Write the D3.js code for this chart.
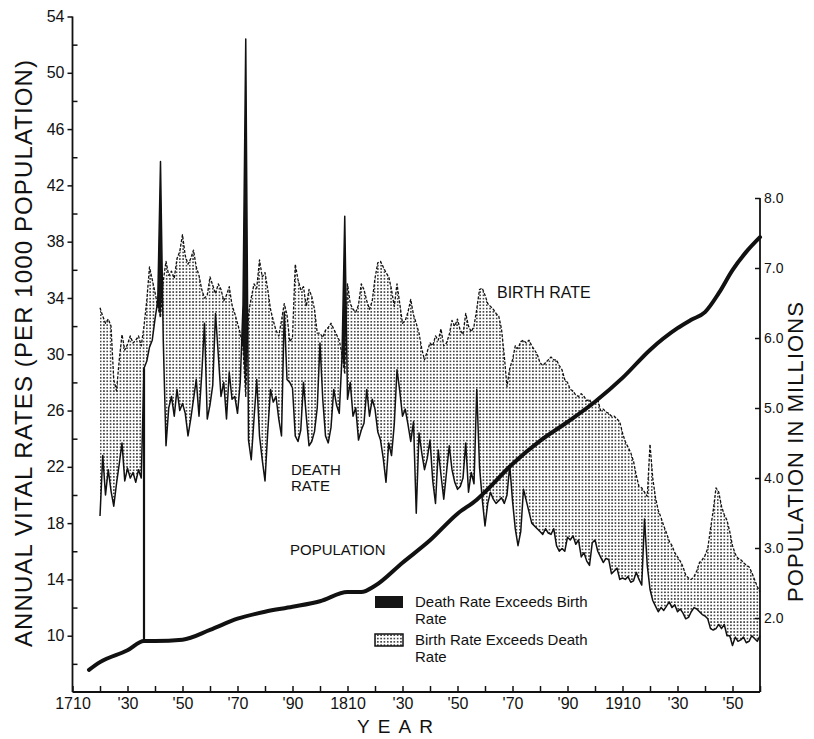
<!DOCTYPE html>
<html>
<head>
<meta charset="utf-8">
<script src="https://cdn.jsdelivr.net/npm/d3@7"></script>
<style>
  body { margin: 0; background: #fff; }
  svg { display: block; font-family: "Liberation Sans", Arial, sans-serif; }
</style>
</head>
<body>
<svg id="chart" width="814" height="739"></svg>
<script>
// Annual vital rates per 1000 population, one value per year from firstYear
const firstYear = 1720;

const birthRate = [
  33.3, 32.7, 32.2, 32.5, 32.0, 28.2, 27.4, 29.6, 31.4, 30.3, // 1720s
  30.7, 31.3, 30.8, 31.0, 31.3, 30.6, 32.0, 33.8, 36.2, 35.3, // 1730s
  34.4, 33.4, 32.6, 35.2, 36.6, 35.6, 35.9, 35.4, 36.8, 37.3, // 1740s
  38.5, 37.0, 36.4, 36.8, 37.4, 36.2, 35.6, 34.6, 34.0, 34.2, // 1750s
  35.5, 34.9, 34.3, 35.0, 34.6, 33.8, 34.2, 34.8, 33.5, 32.9, // 1760s
  32.2, 31.5, 30.4, 27.0, 32.9, 34.0, 35.0, 34.7, 36.7, 35.5, // 1770s
  35.8, 34.6, 33.2, 32.4, 31.7, 31.3, 32.4, 33.6, 32.8, 30.9, // 1780s
  31.2, 36.4, 35.3, 34.6, 34.8, 33.4, 34.6, 34.1, 33.2, 31.5, // 1790s
  31.5, 31.2, 31.7, 31.9, 32.2, 31.8, 31.4, 31.0, 30.0, 28.6, // 1800s
  35.0, 33.6, 33.2, 33.0, 33.5, 35.0, 34.6, 33.8, 33.2, 33.8, // 1810s
  35.4, 36.5, 36.6, 36.2, 35.8, 35.5, 34.6, 33.4, 35.0, 33.6, // 1820s
  32.2, 32.4, 33.0, 33.9, 32.8, 32.2, 31.5, 30.4, 29.6, 30.2, // 1830s
  30.8, 30.6, 31.3, 31.0, 31.8, 30.6, 30.8, 31.4, 32.4, 32.0, // 1840s
  32.5, 31.7, 31.4, 32.9, 32.0, 31.6, 32.0, 33.2, 34.6, 34.7, // 1850s
  34.2, 33.6, 33.4, 33.2, 32.9, 32.7, 31.8, 29.9, 27.7, 29.0, // 1860s
  29.6, 30.6, 30.4, 30.9, 31.0, 30.8, 31.0, 30.6, 30.3, 30.0, // 1870s
  29.4, 29.2, 29.4, 29.6, 29.8, 29.6, 29.6, 29.2, 28.9, 28.2, // 1880s
  28.0, 27.5, 27.4, 27.1, 27.0, 27.2, 27.0, 26.7, 26.8, 26.4, // 1890s
  26.6, 26.8, 26.0, 26.1, 25.9, 25.8, 25.6, 25.6, 25.4, 25.2, // 1900s
  24.4, 23.8, 23.4, 23.0, 22.4, 21.4, 20.6, 20.5, 20.2, 19.9, // 1910s
  23.6, 21.2, 19.8, 18.9, 18.4, 17.8, 17.3, 16.7, 16.4, 15.9, // 1920s
  15.6, 15.3, 14.9, 14.3, 14.1, 14.0, 14.2, 14.6, 15.2, 15.4, // 1930s
  15.7, 16.2, 17.6, 18.9, 20.5, 20.2, 19.2, 18.6, 18.2, 17.4, // 1940s
  16.4, 15.8, 15.5, 15.4, 15.2, 15.0, 14.9, 14.5, 14.0, 13.5, // 1950s
  13.1                                                        // 1960
];

const deathRate = [
  18.5, 22.8, 20.0, 21.8, 20.3, 19.2, 20.8, 22.2, 23.7, 21.0, // 1720s
  21.9, 21.2, 21.6, 20.9, 21.8, 21.2, 29.0, 29.5, 30.5, 31.0, // 1730s
  32.5, 33.8, 43.7, 31.0, 23.5, 26.2, 27.0, 25.6, 27.5, 26.0, // 1740s
  26.5, 25.8, 24.2, 25.4, 26.8, 28.2, 25.6, 28.6, 32.2, 25.4, // 1750s
  26.4, 27.8, 32.9, 30.0, 27.0, 28.0, 25.4, 28.7, 26.8, 27.0, // 1760s
  25.8, 28.0, 33.5, 52.4, 23.9, 22.5, 25.4, 28.2, 24.2, 22.5, // 1770s
  21.0, 24.5, 27.5, 26.6, 27.0, 25.4, 24.2, 33.0, 28.2, 28.0, // 1780s
  27.6, 24.2, 23.8, 24.6, 28.0, 25.6, 23.5, 23.8, 24.5, 26.2, // 1790s
  30.8, 26.8, 24.2, 23.7, 24.8, 27.5, 26.4, 25.8, 29.8, 39.8, // 1800s
  26.8, 28.0, 25.6, 26.2, 23.9, 24.6, 25.1, 27.5, 25.6, 26.8, // 1810s
  26.1, 24.5, 23.9, 22.6, 20.9, 23.7, 22.8, 25.0, 28.9, 27.4, // 1820s
  25.6, 26.1, 25.0, 23.8, 25.2, 18.7, 24.4, 23.0, 21.8, 22.6, // 1830s
  23.9, 21.0, 19.4, 23.2, 21.4, 19.7, 21.6, 23.5, 21.8, 20.9, // 1840s
  20.4, 20.6, 21.2, 23.7, 20.2, 21.6, 20.8, 27.5, 22.0, 19.7, // 1850s
  17.8, 19.4, 20.2, 19.7, 19.4, 19.6, 19.8, 19.4, 20.0, 22.1, // 1860s
  19.6, 17.6, 16.4, 17.4, 20.4, 19.6, 18.8, 18.0, 17.8, 17.6, // 1870s
  17.4, 17.2, 17.6, 17.3, 17.2, 17.6, 16.4, 16.0, 16.2, 16.0, // 1880s
  17.0, 16.8, 17.1, 16.5, 16.8, 15.6, 15.9, 15.3, 15.0, 16.6, // 1890s
  16.8, 16.0, 15.6, 15.2, 15.5, 15.4, 14.4, 14.6, 14.8, 14.0, // 1900s
  14.1, 14.0, 14.2, 13.8, 13.9, 14.5, 14.0, 13.6, 18.3, 15.0, // 1910s
  13.3, 12.5, 12.1, 11.7, 12.0, 11.8, 12.1, 12.4, 12.0, 12.2, // 1920s
  11.7, 11.9, 11.6, 11.2, 11.3, 11.7, 12.0, 11.9, 11.7, 11.5, // 1930s
  11.4, 11.2, 10.5, 10.4, 10.5, 10.8, 10.5, 10.8, 10.0, 10.0, // 1940s
  9.3, 9.9, 9.6, 9.7, 9.9, 9.5, 9.6, 10.0, 9.8, 9.6,          // 1950s
  10.0                                                        // 1960
];

// Population in millions
const popYears    = [1716, 1720, 1730, 1736, 1740, 1750, 1760, 1770, 1780, 1790, 1800, 1810, 1815, 1820, 1830, 1840,
                     1850, 1857, 1860, 1870, 1880, 1890, 1900, 1910, 1920, 1930, 1935, 1940, 1945, 1950, 1955, 1960];
const popMillions = [1.26, 1.37, 1.54, 1.67, 1.67, 1.69, 1.83, 1.99, 2.09, 2.16, 2.24, 2.37, 2.37, 2.46, 2.79, 3.11,
                     3.49, 3.69, 3.80, 4.20, 4.53, 4.80, 5.09, 5.43, 5.83, 6.14, 6.26, 6.37, 6.64, 6.97, 7.23, 7.44];

// Year where the early estimated series hands over to the recorded one
const separatorYear = 1736;

// Axis ticks and labels
const rateTicks      = [10, 14, 18, 22, 26, 30, 34, 38, 42, 46, 50, 54];
const rateMinorTicks = [8, 12, 16, 20, 24, 28, 32, 36, 40, 44, 48, 52];
const popTicks       = [2, 3, 4, 5, 6, 7, 8];
const popTickLabels  = ["2.0", "3.0", "4.0", "5.0", "6.0", "7.0", "8.0"];
const yearTicks      = [1710, 1720, 1730, 1740, 1750, 1760, 1770, 1780, 1790, 1800, 1810, 1820, 1830,
                        1840, 1850, 1860, 1870, 1880, 1890, 1900, 1910, 1920, 1930, 1940, 1950, 1960];
const yearLabelYears = [1710, 1730, 1750, 1770, 1790, 1810, 1830, 1850, 1870, 1890, 1910, 1930, 1950];
const yearLabelTexts = ["1710", "'30", "'50", "'70", "'90", "1810", "'30", "'50", "'70", "'90", "1910", "'30", "'50"];

const ink = "#111";
const svg = d3.select("#chart");

const x  = d3.scaleLinear().domain([1710, 1960]).range([72.5, 760]);
const yR = d3.scaleLinear().domain([6, 54]).range([692, 16.5]);
const yP = d3.scaleLinear().domain([2, 8]).range([618, 198]);

const rows = birthRate.map((b, i) => ({ year: firstYear + i, birth: b, death: deathRate[i] }));
const pop  = popYears.map((yr, i) => ({ year: yr, value: popMillions[i] }));

// ---- patterns and clip regions
const defs = svg.append("defs");
const dots = defs.append("pattern").attr("id", "dots")
  .attr("patternUnits", "userSpaceOnUse").attr("width", 3.3).attr("height", 3.3);
dots.append("rect").attr("width", 3.3).attr("height", 3.3).attr("fill", "#fff");
dots.append("circle").attr("cx", 1.65).attr("cy", 1.65).attr("r", 0.92).attr("fill", "#1c1c1c");

const yBottom = yR(6);
defs.append("clipPath").attr("id", "belowBirth").append("path")
  .attr("d", d3.area().x(d => x(d.year)).y0(yBottom).y1(d => yR(d.birth))(rows));
defs.append("clipPath").attr("id", "aboveBirth").append("path")
  .attr("d", d3.area().x(d => x(d.year)).y0(0).y1(d => yR(d.birth))(rows));

// Birth rate exceeds death rate: stippled band
svg.append("path")
  .attr("clip-path", "url(#belowBirth)")
  .attr("d", d3.area().x(d => x(d.year)).y0(0).y1(d => yR(d.death))(rows))
  .attr("fill", "url(#dots)");

// Death rate exceeds birth rate: solid dark band
svg.append("path")
  .attr("clip-path", "url(#aboveBirth)")
  .attr("d", d3.area().x(d => x(d.year)).y0(yBottom).y1(d => yR(d.death))(rows))
  .attr("fill", "#151515");

// Death rate: solid line
svg.append("path")
  .attr("d", d3.line().x(d => x(d.year)).y(d => yR(d.death))(rows))
  .attr("fill", "none").attr("stroke", ink).attr("stroke-width", 1.5)
  .attr("stroke-linejoin", "round");

// Birth rate: dashed line
svg.append("path")
  .attr("d", d3.line().x(d => x(d.year)).y(d => yR(d.birth))(rows))
  .attr("fill", "none").attr("stroke", ink).attr("stroke-width", 1.3)
  .attr("stroke-dasharray", "3,1.6").attr("stroke-linejoin", "round");

// Separator between the estimated and recorded series
const sepDeath = deathRate[separatorYear - firstYear];
const sepPop = popMillions[popYears.indexOf(separatorYear)];
svg.append("line")
  .attr("x1", x(separatorYear)).attr("x2", x(separatorYear))
  .attr("y1", yR(sepDeath)).attr("y2", yP(sepPop))
  .attr("stroke", ink).attr("stroke-width", 2.2);

// Population: heavy smooth line on the right-hand scale
svg.append("path")
  .attr("d", d3.line().x(d => x(d.year)).y(d => yP(d.value)).curve(d3.curveMonotoneX)(pop))
  .attr("fill", "none").attr("stroke", ink).attr("stroke-width", 4)
  .attr("stroke-linecap", "round");

// ---- axes
function styleAxis(g, size) {
  g.select(".domain").remove();
  g.selectAll("line").attr("stroke", ink).attr("stroke-width", 1.5);
  g.selectAll("text").attr("fill", ink).attr("font-size", size);
}

const leftX = x(1710), rightX = x(1960);

svg.append("g").attr("transform", `translate(${leftX},0)`)
  .call(d3.axisLeft(yR).tickValues(rateTicks).tickSize(5).tickPadding(3).tickFormat(d3.format("d")))
  .call(g => styleAxis(g, 16));
svg.append("g").attr("transform", `translate(${leftX},0)`)
  .call(d3.axisRight(yR).tickValues(rateMinorTicks).tickSize(5).tickFormat(""))
  .call(g => styleAxis(g, 16));

svg.append("g").attr("transform", `translate(${rightX},0)`)
  .call(d3.axisRight(yP).tickValues(popTicks).tickSizeInner(-5).tickSizeOuter(0).tickPadding(4)
    .tickFormat((d, i) => popTickLabels[i]))
  .call(g => styleAxis(g, 14));

svg.append("g").attr("transform", `translate(0,${yBottom})`)
  .call(d3.axisBottom(x).tickValues(yearTicks).tickSizeInner(-6).tickSizeOuter(0).tickPadding(6)
    .tickFormat(d => { const k = yearLabelYears.indexOf(d); return k >= 0 ? yearLabelTexts[k] : ""; }))
  .call(g => styleAxis(g, 16));

// axis lines
svg.append("line").attr("x1", leftX).attr("x2", leftX).attr("y1", yR(54)).attr("y2", yBottom)
  .attr("stroke", ink).attr("stroke-width", 1.8);
svg.append("line").attr("x1", rightX).attr("x2", rightX).attr("y1", yP(8)).attr("y2", yBottom)
  .attr("stroke", ink).attr("stroke-width", 1.8);
svg.append("line").attr("x1", leftX).attr("x2", rightX).attr("y1", yBottom).attr("y2", yBottom)
  .attr("stroke", ink).attr("stroke-width", 1.8);

// ---- axis titles
svg.append("text")
  .attr("transform", "translate(23,353.5) rotate(-90)")
  .attr("text-anchor", "middle").attr("dominant-baseline", "central")
  .attr("font-size", 24).attr("fill", ink)
  .attr("textLength", 587).attr("lengthAdjust", "spacing")
  .text("ANNUAL VITAL RATES (PER 1000 POPULATION)");

svg.append("text")
  .attr("transform", "translate(795,452) rotate(-90)")
  .attr("text-anchor", "middle").attr("dominant-baseline", "central")
  .attr("font-size", 22).attr("fill", ink)
  .attr("textLength", 300).attr("lengthAdjust", "spacing")
  .text("POPULATION IN MILLIONS");

svg.append("text")
  .attr("x", 357).attr("y", 733)
  .attr("font-size", 19).attr("fill", ink)
  .attr("textLength", 76).attr("lengthAdjust", "spacing")
  .text("YEAR");

// ---- series labels
svg.append("text").attr("x", 497).attr("y", 298).attr("font-size", 16).attr("fill", ink).text("BIRTH RATE");
svg.append("text").attr("x", 291).attr("y", 475).attr("font-size", 15).attr("fill", ink).text("DEATH");
svg.append("text").attr("x", 291).attr("y", 491).attr("font-size", 15).attr("fill", ink).text("RATE");
svg.append("text").attr("x", 290).attr("y", 555).attr("font-size", 15).attr("fill", ink).text("POPULATION");

// ---- legend
const legend = svg.append("g").attr("fill", ink).attr("font-size", 15);
legend.append("rect").attr("x", 375).attr("y", 596).attr("width", 28).attr("height", 12)
  .attr("fill", "#151515");
legend.append("text").attr("x", 415).attr("y", 607).text("Death Rate Exceeds Birth");
legend.append("text").attr("x", 415).attr("y", 624).text("Rate");
legend.append("rect").attr("x", 375).attr("y", 634).attr("width", 28).attr("height", 12)
  .attr("fill", "url(#dots)").attr("stroke", ink).attr("stroke-width", 1.5);
legend.append("text").attr("x", 415).attr("y", 645).text("Birth Rate Exceeds Death");
legend.append("text").attr("x", 415).attr("y", 662).text("Rate");
</script>
</body>
</html>
